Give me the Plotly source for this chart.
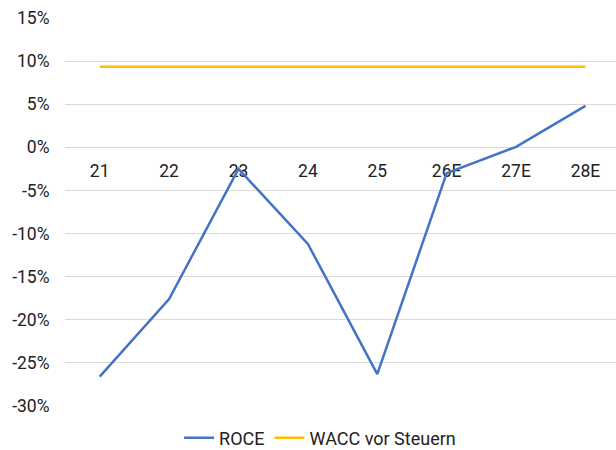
import plotly.graph_objects as go

# ---- data
years = ["21", "22", "23", "24", "25", "26E", "27E", "28E"]
roce = [-26.6, -17.6, -2.5, -11.2, -26.3, -3.0, 0.05, 4.8]
wacc = [9.35, 9.35, 9.35, 9.35, 9.35, 9.35, 9.35, 9.35]

y_ticks = [-30, -25, -20, -15, -10, -5, 0, 5, 10, 15]
y_labels = ["-30%", "-25%", "-20%", "-15%", "-10%", "-5%", "0%", "5%", "10%", "15%"]

fig = go.Figure()

fig.add_trace(go.Scatter(x=years, y=roce, name="ROCE", mode="lines",
                         line=dict(color="#4472C4", width=2.5)))
fig.add_trace(go.Scatter(x=years, y=wacc, name="WACC vor Steuern", mode="lines",
                         line=dict(color="#FFC000", width=2.5)))

# autoexpand off so the legend near the bottom edge doesn't shrink the plot
fig.update_layout(
    width=616, height=450,
    margin=dict(l=65, r=0, t=18, b=44, autoexpand=False),
    paper_bgcolor="white", plot_bgcolor="white",
    font=dict(family="Roboto", size=17.5, color="#222222"),
    legend=dict(orientation="h", x=0.463, xanchor="center", y=-0.0825, yanchor="middle",
                font=dict(size=18), itemwidth=30),
)

# category labels sit on the zero line, like in the original
fig.update_xaxes(
    type="category", range=[-0.5, 7.44],
    anchor="free", position=2 / 3, automargin=False,
    showgrid=False, showline=False, zeroline=False,
    ticks="outside", ticklen=8, tickcolor="rgba(0,0,0,0)",
    layer="below traces",
)

fig.update_yaxes(
    range=[-30, 15], automargin=False,
    tickvals=y_ticks, ticktext=y_labels,
    showgrid=True, gridcolor="#D9D9D9", gridwidth=1,
    zeroline=False, showline=False,
    ticks="outside", ticklen=11, tickcolor="rgba(0,0,0,0)",
)

# drop the default page margin so the 616x450 figure fills the window exactly
fig.write_html("out.html", config={"displayModeBar": False},
               post_script="document.body.style.margin = '0';")
